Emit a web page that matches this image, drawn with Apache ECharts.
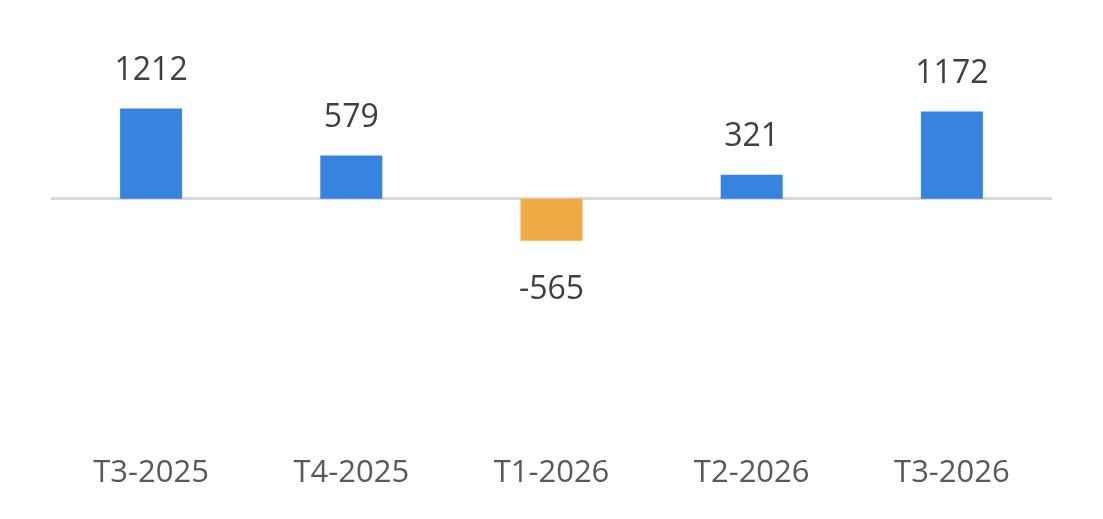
<!DOCTYPE html>
<html>
<head>
<meta charset="utf-8">
<script src="https://cdn.jsdelivr.net/npm/echarts@6/dist/echarts.min.js"></script>
<style>html,body{margin:0;padding:0;background:#fff;}#c{width:1103px;height:519px;}</style>
</head>
<body>
<div id="c"></div>
<script>
var categories = ['T3-2025', 'T4-2025', 'T1-2026', 'T2-2026', 'T3-2026'];
var values = [1212, 579, -565, 321, 1172];
var positiveColor = '#3784E0';
var negativeColor = '#EFAA45';

var chart = echarts.init(document.getElementById('c'));
chart.setOption({
  animation: false,
  grid: { left: 51, right: 51, top: 87, bottom: 67 },
  xAxis: {
    type: 'category',
    data: categories,
    axisLine: { show: false },
    axisTick: { show: false },
    axisLabel: { color: '#595959', fontSize: 31, fontFamily: 'Open Sans', margin: 6 }
  },
  yAxis: {
    type: 'value',
    min: -3400,
    max: 1500,
    show: false,
    splitLine: { show: false }
  },
  series: [{
    type: 'bar',
    barWidth: 62,
    data: values.map(function (v) {
      return {
        value: v,
        itemStyle: { color: v >= 0 ? positiveColor : negativeColor },
        label: { position: v >= 0 ? 'top' : 'bottom', distance: v >= 0 ? 22 : 33 }
      };
    }),
    label: {
      show: true,
      color: '#404040',
      fontSize: 32,
      fontFamily: 'Open Sans'
    },
    markLine: {
      silent: true,
      symbol: 'none',
      label: { show: false },
      lineStyle: { color: '#D9D9D9', width: 3, type: 'solid' },
      data: [{ yAxis: 0 }],
      z: 1
    }
  }]
});
</script>
</body>
</html>
